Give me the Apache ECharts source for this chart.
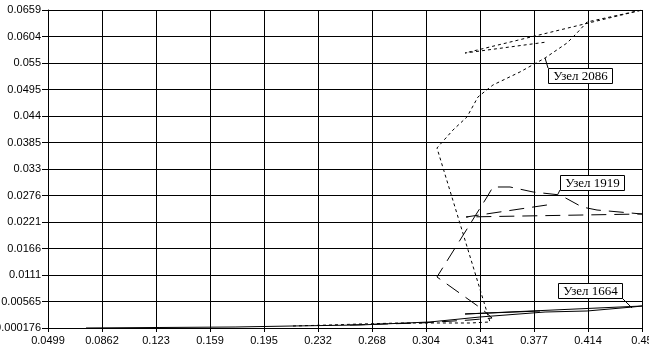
<!DOCTYPE html>
<html>
<head>
<meta charset="utf-8">
<script src="https://cdn.jsdelivr.net/npm/echarts@6/dist/echarts.min.js"></script>
<style>
html,body{margin:0;padding:0;background:#fff;}
#c{width:649px;height:352px;}
</style>
</head>
<body>
<div id="c"></div>
<script>
// ---- Axis tick labels ----
const xTickLabels = ['0.0499','0.0862','0.123','0.159','0.195','0.232','0.268','0.304','0.341','0.377','0.414','0.45'];
const yTickLabels = ['0.000176','0.00565','0.0111','0.0166','0.0221','0.0276','0.033','0.0385','0.044','0.0495','0.055','0.0604','0.0659'];
const xMin = 0.0499, xMax = 0.45;
const yMin = 0.000176, yMax = 0.0659;

// ---- Series (x, y) trajectories ----
const node1664X = [0.0755,0.1253,0.1759,0.2149,0.2601,0.3072,0.3409,0.3847,0.4130,0.4439,0.45,0.3308,0.3813];
const node1664Y = [0.00018,0.00028,0.00038,0.00059,0.0008,0.00142,0.00245,0.00348,0.00369,0.00452,0.00472,0.00307,0.00369];

const node1919X = [0.2533,0.3005,0.3341,0.3490,0.3422,0.3119,0.3456,0.3496,0.3611,0.3766,0.3948,0.4096,0.4197,0.45,0.3315,0.3860];
const node1919Y = [0.0008,0.00121,0.00183,0.00224,0.00410,0.01072,0.02725,0.02932,0.02932,0.02829,0.02767,0.02519,0.02456,0.02374,0.02312,0.02560];

const node2086X = [0.2149,0.2399,0.2601,0.2870,0.3072,0.3341,0.3476,0.3119,0.3227,0.3321,0.3395,0.3496,0.3678,0.3847,0.3995,0.4062,0.4130,0.45,0.3308,0.3860];
const node2086Y = [0.00059,0.0008,0.0010,0.00121,0.00121,0.00121,0.00142,0.03738,0.04110,0.04379,0.04792,0.05040,0.05309,0.05598,0.05908,0.06115,0.06342,0.0659,0.05701,0.05929];

const seriesNames = ['Узел 1664','Узел 1919','Узел 2086'];

const zip = (xs, ys) => xs.map((x, i) => [x, ys[i]]);

function evenTicks(min, max, n) {
  const out = [];
  for (let i = 0; i < n; i++) out.push(min + (max - min) * i / (n - 1));
  out[0] = min;
  out[n - 1] = max;
  return out;
}
const xTicks = evenTicks(xMin, xMax, xTickLabels.length);
const yTicks = evenTicks(yMin, yMax, yTickLabels.length);
const xStep = (xMax - xMin) / (xTickLabels.length - 1);
const yStep = (yMax - yMin) / (yTickLabels.length - 1);

const labelFont = {fontFamily: '"Liberation Sans Narrow", "Liberation Sans", Arial, sans-serif', fontSize: 11, color: '#000'};

const chart = echarts.init(document.getElementById('c'), null, {renderer: 'canvas'});

const baseLine = {type: 'line', showSymbol: false, symbol: 'none', smooth: false, animation: false, clip: true};

chart.setOption({
  animation: false,
  backgroundColor: '#fff',
  grid: {left: 48, right: 7, top: 10, bottom: 24, containLabel: false, outerBoundsMode: 'none'},
  xAxis: {
    type: 'value', min: xMin, max: xMax,
    axisLine: {show: true, lineStyle: {color: '#000', width: 1}},
    axisTick: {show: true, length: 4, customValues: xTicks, lineStyle: {color: '#000'}},
    axisLabel: {show: true, customValues: xTicks, margin: 7, ...labelFont,
      showMinLabel: true, showMaxLabel: true, hideOverlap: false,
      formatter: v => xTickLabels[Math.round((v - xMin) / xStep)]},
    splitLine: {show: true, lineStyle: {color: '#000', width: 1}}
  },
  yAxis: {
    type: 'value', min: yMin, max: yMax,
    axisLine: {show: true, lineStyle: {color: '#000', width: 1}},
    axisTick: {show: true, length: 6, customValues: yTicks, lineStyle: {color: '#000'}},
    axisLabel: {show: true, customValues: yTicks, margin: 7, ...labelFont,
      showMinLabel: true, showMaxLabel: true, hideOverlap: false,
      formatter: v => yTickLabels[Math.round((v - yMin) / yStep)]},
    splitLine: {show: true, lineStyle: {color: '#000', width: 1}}
  },
  series: [
    {...baseLine, name: seriesNames[0], data: zip(node1664X, node1664Y),
      lineStyle: {color: '#000', width: 1, type: 'solid'}},
    {...baseLine, name: seriesNames[1], data: zip(node1919X, node1919Y),
      lineStyle: {color: '#000', width: 1, type: [15, 8]}},
    {...baseLine, name: seriesNames[2], data: zip(node2086X, node2086Y),
      lineStyle: {color: '#000', width: 1, type: [3, 3]}}
  ]
});

// ---- Annotation callouts (anchor in data units, box offset in px) ----
const callouts = [
  {text: seriesNames[2], anchor: [0.3847, 0.05598], dx: 3, dy: 10, corner: 'tl'},
  {text: seriesNames[1], anchor: [0.3934, 0.02787], dx: 2, dy: -19, corner: 'bl'},
  {text: seriesNames[0], anchor: [0.4433, 0.00431], dx: -74, dy: -25, corner: 'br'}
];
const boxW = 64, boxH = 15;
const graphics = [];
callouts.forEach(c => {
  const p = chart.convertToPixel({gridIndex: 0}, c.anchor);
  const bx = Math.round(p[0] + c.dx), by = Math.round(p[1] + c.dy);
  let cx = bx, cy = by;
  if (c.corner === 'bl') { cy = by + boxH; }
  if (c.corner === 'br') { cx = bx + boxW; cy = by + boxH; }
  graphics.push({type: 'line', shape: {x1: cx, y1: cy, x2: p[0], y2: p[1]},
    style: {stroke: '#000', lineWidth: 1}, z: 100});
  graphics.push({type: 'rect', shape: {x: bx + 0.5, y: by + 0.5, width: boxW, height: boxH},
    style: {fill: '#fff', stroke: '#000', lineWidth: 1}, z: 101});
  graphics.push({type: 'text', x: bx + boxW / 2 + 0.5, y: by + boxH / 2 + 1,
    style: {text: c.text, font: '13px "Liberation Serif"', fill: '#000', align: 'center', verticalAlign: 'middle'}, z: 102});
});
chart.setOption({graphic: graphics});
</script>
</body>
</html>
